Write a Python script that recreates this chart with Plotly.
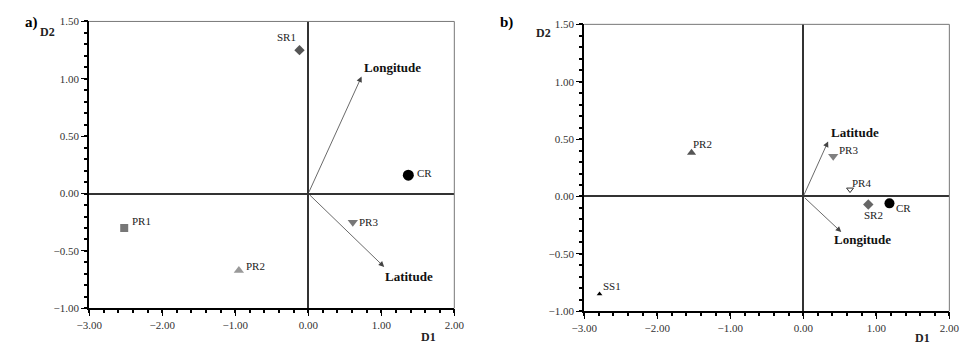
import plotly.graph_objects as go

# ---- data: panel a ----
a_names = ["SR1", "CR", "PR1", "PR2", "PR3"]
a_d1 = [-0.12, 1.37, -2.52, -0.95, 0.61]
a_d2 = [1.25, 0.16, -0.30, -0.67, -0.25]
a_vec_names = ["Longitude", "Latitude"]
a_vec_d1 = [0.73, 1.04]
a_vec_d2 = [1.02, -0.64]

# ---- data: panel b ----
b_names = ["PR2", "PR3", "PR4", "SR2", "CR", "SS1"]
b_d1 = [-1.53, 0.41, 0.64, 0.89, 1.18, -2.79]
b_d2 = [0.38, 0.35, 0.06, -0.07, -0.06, -0.85]
b_vec_names = ["Latitude", "Longitude"]
b_vec_d1 = [0.34, 0.52]
b_vec_d2 = [0.48, -0.31]

x_range = [-3, 2]
y_range = [-1, 1.5]

SERIF = "Liberation Serif"

# marker style + label placement (xanchor, xshift px, yshift px)
a_style = {
    "SR1": dict(symbol="diamond", size=8, color="#555555", lab=("center", -13, 13)),
    "CR": dict(symbol="circle", size=11, color="#000000", lab=("left", 7, 2)),
    "PR1": dict(symbol="square", size=8, color="#777777", lab=("left", 6, 7)),
    "PR2": dict(symbol="triangle-up", size=9, color="#999999", lab=("left", 5, 4)),
    "PR3": dict(symbol="triangle-down", size=9, color="#777777", lab=("left", 4, 0)),
}
b_style = {
    "PR2": dict(symbol="triangle-up", size=8, color="#555555", lab=("left", -1, 9)),
    "PR3": dict(symbol="triangle-down", size=9, color="#808080", lab=("left", 4, 6)),
    "PR4": dict(symbol="triangle-down-open", size=6, color="#333333", lab=("left", 0, 7)),
    "SR2": dict(symbol="diamond", size=8, color="#666666", lab=("center", 5, -11)),
    "CR": dict(symbol="circle", size=10, color="#000000", lab=("left", 5, -5)),
    "SS1": dict(symbol="triangle-up", size=5, color="#000000", lab=("left", 1, 8)),
}
a_vec_lab = {"Longitude": ("left", 0, 9), "Latitude": ("left", -1, -10)}
b_vec_lab = {"Latitude": ("left", 1, 9), "Longitude": ("left", -9, -7)}

fig = go.Figure()

def add_points(names, xs, ys, styles, xa, ya):
    for n, x, y in zip(names, xs, ys):
        s = styles[n]
        fig.add_trace(go.Scatter(
            x=[x], y=[y], mode="markers",
            marker=dict(symbol=s["symbol"], size=s["size"], color=s["color"],
                        line=dict(width=1 if "open" in s["symbol"] else 0, color=s["color"])),
            xaxis=xa, yaxis=ya, showlegend=False, hoverinfo="skip"))
        xanc, xsh, ysh = s["lab"]
        fig.add_annotation(x=x, y=y, xref=xa, yref=ya, text=n, showarrow=False,
                           xanchor=xanc, yanchor="middle", xshift=xsh, yshift=ysh,
                           font=dict(family=SERIF, size=11, color="#222222"))

add_points(a_names, a_d1, a_d2, a_style, "x", "y")
add_points(b_names, b_d1, b_d2, b_style, "x2", "y2")

def add_vectors(names, xs, ys, xr, yr, label_pos):
    for n, x, y in zip(names, xs, ys):
        fig.add_annotation(x=x, y=y, ax=0, ay=0, xref=xr, yref=yr, axref=xr, ayref=yr,
                           showarrow=True, arrowhead=2, arrowsize=1.4, arrowwidth=0.8,
                           arrowcolor="#444444", text="")
        xanc, xsh, ysh = label_pos[n]
        fig.add_annotation(x=x, y=y, xref=xr, yref=yr, text="<b>%s</b>" % n,
                           showarrow=False, xanchor=xanc, yanchor="middle",
                           xshift=xsh, yshift=ysh,
                           font=dict(family=SERIF, size=13, color="#111111"))

add_vectors(a_vec_names, a_vec_d1, a_vec_d2, "x", "y", a_vec_lab)
add_vectors(b_vec_names, b_vec_d1, b_vec_d2, "x2", "y2", b_vec_lab)

# invisible traces so the overlay (minor-tick) axes get drawn
fig.add_trace(go.Scatter(x=[None], y=[None], xaxis="x3", yaxis="y3", showlegend=False, hoverinfo="skip"))
fig.add_trace(go.Scatter(x=[None], y=[None], xaxis="x4", yaxis="y4", showlegend=False, hoverinfo="skip"))

W, H = 974, 351
common = dict(ticks="outside", ticklen=6, tickwidth=1, tickcolor="#000",
              tickformat=".2f", tickmode="linear", tick0=0,
              showline=True, linecolor="#000", linewidth=2, mirror=False,
              showgrid=False, zeroline=True, zerolinecolor="#333333", zerolinewidth=1.5,
              tickfont=dict(family=SERIF, size=11, color="#333333"),
              fixedrange=True)
ax_common = dict(common, range=x_range, dtick=1)
ay_common = dict(common, range=y_range, dtick=0.5)
minor_common = dict(ticks="outside", ticklen=4, tickwidth=1.5, tickcolor="#000",
                    tickmode="linear", tick0=0, showticklabels=False, showline=False,
                    showgrid=False, zeroline=False, fixedrange=True)

fig.update_layout(
    width=W, height=H, margin=dict(l=0, r=0, t=0, b=0),
    paper_bgcolor="white", plot_bgcolor="white", showlegend=False,
    font=dict(family=SERIF),
    xaxis=dict(ax_common, domain=[78 / W, 452 / W], anchor="y"),
    yaxis=dict(ay_common, domain=[38 / H, 335 / H], anchor="x"),
    xaxis2=dict(ax_common, domain=[585 / W, 959 / W], anchor="y2"),
    yaxis2=dict(ay_common, domain=[35 / H, 332 / H], anchor="x2"),
    xaxis3=dict(minor_common, range=x_range, dtick=0.2, overlaying="x", anchor="y", side="bottom"),
    yaxis3=dict(minor_common, range=y_range, dtick=0.1, overlaying="y", anchor="x", side="left"),
    xaxis4=dict(minor_common, range=x_range, dtick=0.2, overlaying="x2", anchor="y2", side="bottom"),
    yaxis4=dict(minor_common, range=y_range, dtick=0.1, overlaying="y2", anchor="x2", side="left"),
)

for xr, yr in (("x", "y"), ("x2", "y2")):
    fig.add_shape(type="line", xref=xr + " domain", yref=yr + " domain",
                  x0=0, x1=1, y0=1, y1=1, line=dict(color="#777777", width=1))
    fig.add_shape(type="line", xref=xr + " domain", yref=yr + " domain",
                  x0=1, x1=1, y0=0, y1=1, line=dict(color="#777777", width=1))

for txt, x, y, size in (("a)", 10, 6, 15), ("b)", 497, 6, 15)):
    fig.add_annotation(text="<b>%s</b>" % txt, x=x / W, y=1 - y / H, xref="paper", yref="paper",
                       xanchor="left", yanchor="top", showarrow=False,
                       font=dict(family=SERIF, size=size, color="#000"))
for txt, x, y in (("D2", 26, 18), ("D2", 534, 19), ("D1", 416, 333), ("D1", 922, 334)):
    fig.add_annotation(text="<b>%s</b>" % txt, x=x / W, y=1 - y / H, xref="paper", yref="paper",
                       xanchor="left", yanchor="top", showarrow=False,
                       font=dict(family=SERIF, size=12, color="#222"))

fig.write_html("out.html", config={"responsive": False},
               post_script="document.body.style.margin='0';document.body.style.overflow='hidden';")
